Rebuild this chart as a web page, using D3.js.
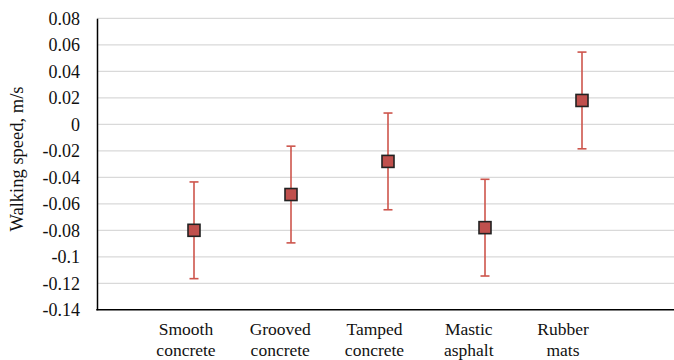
<!DOCTYPE html>
<html><head><meta charset="utf-8">
<script src="https://cdn.jsdelivr.net/npm/d3@7"></script>
<style>body{margin:0;background:#fff}svg{display:block}svg text{font-family:"Liberation Serif","Times New Roman",serif !important}</style>
</head><body>
<svg id="c" width="674" height="360"></svg>
<script>
const categories = [["Smooth","concrete"],["Grooved","concrete"],["Tamped","concrete"],["Mastic","asphalt"],["Rubber","mats"]];
const means = [-0.080, -0.053, -0.028, -0.078, 0.018];
const errors = [0.0365, 0.0365, 0.0365, 0.0365, 0.0365];
const yTicks = [0.08,0.06,0.04,0.02,0,-0.02,-0.04,-0.06,-0.08,-0.1,-0.12,-0.14];

const svg = d3.select("#c");
const pLeft = 97, pRight = 679, pTop = 18.3, pBottom = 309.8;
const y = d3.scaleLinear().domain([-0.14, 0.08]).range([pBottom, pTop]);
const x = d3.scaleLinear().domain([0, 6]).range([pLeft, pRight]);
// category labels sit slightly left of the markers in the original
const xLab = d3.scaleLinear().domain([1, 5]).range([186, 563]);

// gridlines
svg.append("g").selectAll("line").data(yTicks.filter(d => d > -0.14)).join("line")
  .attr("x1", pLeft).attr("x2", 674).attr("y1", d => y(d)).attr("y2", d => y(d))
  .attr("stroke", "#d9d9d9").attr("stroke-width", 1.3);

// y axis
const yAxis = d3.axisLeft(y).tickValues(yTicks).tickSize(0).tickPadding(17)
  .tickFormat(d => d === 0 ? "0" : String(+d.toFixed(2)));
const gy = svg.append("g").attr("transform", `translate(${pLeft},0)`).call(yAxis);
gy.select(".domain").attr("stroke", "#000").attr("stroke-width", 1.5);
gy.selectAll("text").attr("font-size", 18).attr("fill", "#111");

// x axis line
svg.append("line").attr("x1", pLeft - 0.75).attr("x2", 674).attr("y1", pBottom).attr("y2", pBottom)
  .attr("stroke", "#000").attr("stroke-width", 1.5);

// category labels
const lab = svg.append("g").selectAll("text").data(categories).join("text")
  .attr("x", (d, i) => xLab(i + 1)).attr("y", 335)
  .attr("text-anchor", "middle").attr("font-size", 17.5).attr("fill", "#111");
lab.append("tspan").attr("x", (d, i) => xLab(i + 1)).text(d => d[0]);
lab.append("tspan").attr("x", (d, i) => xLab(i + 1)).attr("dy", 21).text(d => d[1]);

// y title
svg.append("text").attr("transform", `translate(23,159) rotate(-90)`)
  .attr("text-anchor", "middle").attr("font-size", 18.5).attr("fill", "#111")
  .text("Walking speed, m/s");

// error bars
const eb = svg.append("g").attr("stroke", "#cd554c").attr("stroke-width", 1.6);
means.forEach((m, i) => {
  const cx = x(i + 1);
  eb.append("line").attr("x1", cx).attr("x2", cx).attr("y1", y(m + errors[i])).attr("y2", y(m - errors[i]));
  eb.append("line").attr("x1", cx - 4.5).attr("x2", cx + 4.5).attr("y1", y(m + errors[i])).attr("y2", y(m + errors[i]));
  eb.append("line").attr("x1", cx - 4.5).attr("x2", cx + 4.5).attr("y1", y(m - errors[i])).attr("y2", y(m - errors[i]));
});

// markers
const s = 12;
svg.append("g").selectAll("rect").data(means).join("rect")
  .attr("x", (d, i) => x(i + 1) - s / 2).attr("y", d => y(d) - s / 2)
  .attr("width", s).attr("height", s)
  .attr("fill", "#c0504d").attr("stroke", "#222").attr("stroke-width", 1.6);
</script>
</body></html>
